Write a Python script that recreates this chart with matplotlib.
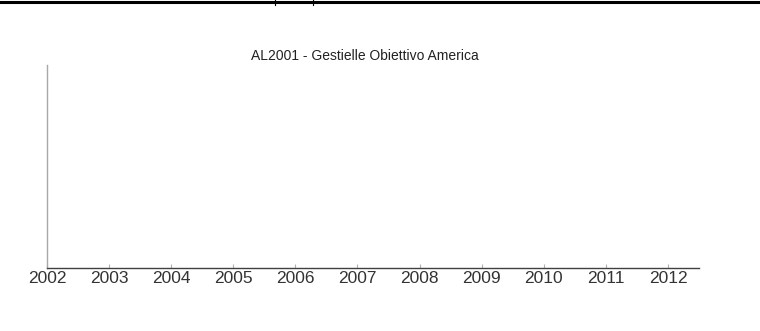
import matplotlib
matplotlib.use("Agg")
import matplotlib.pyplot as plt
from matplotlib.lines import Line2D

# dati del grafico (vuoto: solo gli anni sull'asse)
title = "AL2001 - Gestielle Obiettivo America"
years = [2002, 2003, 2004, 2005, 2006, 2007, 2008, 2009, 2010, 2011, 2012]

W, H = 760, 331
fig = plt.figure(figsize=(W / 100, H / 100), dpi=100)
ax = fig.add_axes([47 / W, 1 - 268 / H, (699 - 47) / W, (268 - 65) / H])

ax.set_xlim(years[0], years[-1] + 0.5)
ax.set_ylim(0, 1)
ax.set_xticks(years)
ax.set_xticklabels([str(y) for y in years])
ax.set_yticks([])

for s in ["top", "right"]:
    ax.spines[s].set_visible(False)
ax.spines["left"].set_color("#a8a8a8")
ax.spines["left"].set_linewidth(1.0)
ax.spines["bottom"].set_color("#404040")
ax.spines["bottom"].set_linewidth(1.0)

ax.tick_params(axis="x", direction="in", length=3, width=0.8, color="#b0b0b0",
               pad=2, labelsize=12.5, labelcolor="#333333")
for lbl in ax.get_xticklabels():
    lbl.set_family(["Liberation Sans", "DejaVu Sans"])

fig.text(365 / W, 1 - 56 / H, title, ha="center", va="center", fontsize=10,
         color="#222222", family=["Liberation Sans", "DejaVu Sans"])

# bordo superiore (resto della tabella)
fig.add_artist(Line2D([0, 759 / W], [1 - 1.5 / H, 1 - 1.5 / H], color="black",
                      linewidth=2.2, transform=fig.transFigure))
for xp in [275, 313]:
    fig.add_artist(Line2D([xp / W, xp / W], [1, 1 - 5 / H], color="black",
                          linewidth=0.8, transform=fig.transFigure))

fig.savefig("out.png", dpi=100)
